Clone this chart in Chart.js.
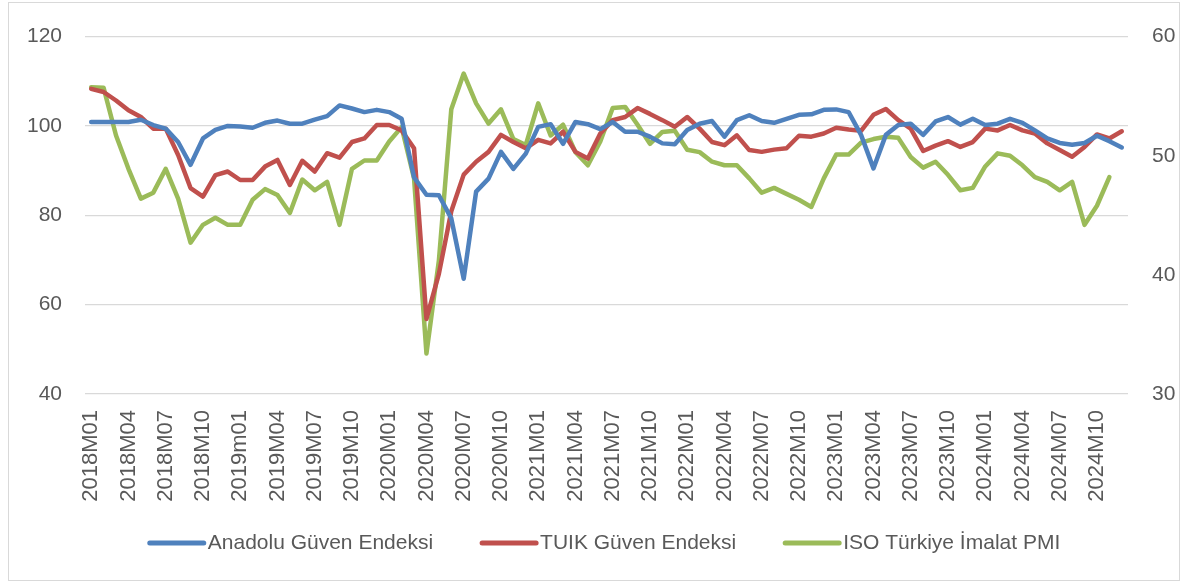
<!DOCTYPE html>
<html>
<head>
<meta charset="utf-8">
<script src="https://cdn.jsdelivr.net/npm/chart.js@4"></script>
<style>
  body { margin: 0; background: #fff; }
  #wrap { position: relative; width: 1186px; height: 583px; }
  #frame { position: absolute; left: 8px; top: 2px; width: 1170px; height: 577px; border: 1px solid #d9d9d9; pointer-events: none; }
</style>
</head>
<body>
<div id="wrap">
  <canvas id="chart" width="1186" height="583"></canvas>
  <div id="frame"></div>
</div>
<script>
// months 2018M01 .. 2024M12 (one label keeps the source's lowercase "m")
const years = [2018, 2019, 2020, 2021, 2022, 2023, 2024];
const months = ['01', '02', '03', '04', '05', '06', '07', '08', '09', '10', '11', '12'];
const labels = [];
years.forEach(y => months.forEach(m => labels.push(y + 'M' + m)));
labels[12] = '2019m01';

const anadolu = [
  100.9, 100.9, 100.9, 100.9, 101.4, 100.2, 99.4, 96.4, 91.3, 97.2, 99.1, 100.0,
  99.9, 99.6, 100.7, 101.2, 100.5, 100.5, 101.4, 102.2, 104.6, 103.9, 103.1, 103.6,
  103.1, 101.6, 88.5, 84.6, 84.5, 79.3, 65.8, 85.3, 88.2, 94.2, 90.4, 93.8,
  99.8, 100.4, 96.0, 100.9, 100.4, 99.3, 100.9, 98.7, 98.7, 97.6, 96.1, 95.9,
  99.1, 100.5, 101.1, 97.6, 101.3, 102.4, 101.1, 100.7, 101.6, 102.5, 102.6, 103.6,
  103.7, 103.1, 98.0, 90.5, 98.0, 100.2, 100.5, 98.0, 101.0, 102.0, 100.3, 101.6,
  100.2, 100.5, 101.6, 100.7, 99.0, 97.2, 96.2, 95.8, 96.2, 97.8, 96.6, 95.2
];

const tuik = [
  108.3, 107.6, 105.7, 103.5, 102.0, 99.4, 99.4, 93.5, 86.1, 84.2, 89.0, 89.8,
  87.9, 87.9, 90.9, 92.4, 86.8, 92.2, 89.8, 93.9, 92.9, 96.4, 97.2, 100.2,
  100.2, 99.0, 95.0, 56.8, 66.9, 80.9, 89.1, 92.0, 94.2, 98.0, 96.4, 95.0,
  96.9, 96.1, 98.7, 94.2, 92.7, 98.3, 101.3, 102.0, 104.0, 102.7, 101.3, 99.8,
  102.0, 99.4, 96.4, 95.7, 97.9, 94.6, 94.2, 94.7, 95.0, 97.8, 97.6, 98.3,
  99.6, 99.2, 98.9, 102.5, 103.8, 101.3, 99.4, 94.4, 95.6, 96.6, 95.3, 96.4,
  99.4, 99.0, 100.2, 99.0, 98.3, 96.1, 94.6, 93.1, 95.3, 98.1, 97.2, 98.8
];

const pmi = [
  55.75, 55.7, 51.7, 48.9, 46.4, 46.9, 48.9, 46.4, 42.7, 44.2, 44.8, 44.2,
  44.2, 46.3, 47.2, 46.7, 45.2, 48.0, 47.1, 47.8, 44.2, 48.9, 49.6, 49.6,
  51.2, 52.4, 48.1, 33.4, 41.2, 53.9, 56.9, 54.4, 52.7, 53.9, 51.4, 50.9,
  54.4, 51.7, 52.6, 50.3, 49.2, 51.2, 54.0, 54.1, 52.6, 51.0, 52.0, 52.1,
  50.5, 50.3, 49.5, 49.2, 49.2, 48.1, 46.9, 47.3, 46.8, 46.3, 45.7, 48.1,
  50.1, 50.1, 51.1, 51.4, 51.6, 51.5, 49.9, 49.0, 49.5, 48.4, 47.1, 47.3,
  49.1, 50.2, 50.0, 49.2, 48.2, 47.8, 47.1, 47.8, 44.2, 45.8, 48.2, null
];

const seriesNames = ['Anadolu Güven Endeksi', 'TUIK Güven Endeksi', 'ISO Türkiye İmalat PMI'];
const colors = ['#4F81BD', '#C0504D', '#9BBB59'];

const FONT = "'Liberation Sans', Arial, sans-serif";
Chart.defaults.font.family = FONT;
Chart.defaults.color = '#595959';

function lineSet(i, data, axis) {
  return {
    label: seriesNames[i],
    data: data,
    yAxisID: axis,
    borderColor: colors[i],
    backgroundColor: colors[i],
    borderWidth: 4.5,
    pointRadius: 0,
    tension: 0,
    borderJoinStyle: 'round',
    borderCapStyle: 'round',
    spanGaps: false
  };
}

// Excel-like legend: long line sample right next to its text, wide gaps between items
const lineLegend = {
  id: 'lineLegend',
  afterDraw(chart) {
    const c = chart.ctx;
    const sample = 58, gap = 2, between = 47, y = 543, center = 604;
    c.save();
    c.font = '21px ' + FONT;
    c.textBaseline = 'middle';
    const items = chart.data.datasets.map(ds => ({ ds, w: c.measureText(ds.label).width }));
    const total = items.reduce((s, it) => s + sample + gap + it.w, 0) + between * (items.length - 1);
    let x = center - total / 2;
    items.forEach(it => {
      c.strokeStyle = it.ds.borderColor;
      c.lineWidth = 5;
      c.lineCap = 'round';
      c.beginPath();
      c.moveTo(x + 2, y);
      c.lineTo(x + sample - 2, y);
      c.stroke();
      c.fillStyle = '#595959';
      c.fillText(it.ds.label, x + sample + gap, y);
      x += sample + gap + it.w + between;
    });
    c.restore();
  }
};

const ctx = document.getElementById('chart').getContext('2d');
new Chart(ctx, {
  type: 'line',
  data: {
    labels: labels,
    datasets: [
      lineSet(0, anadolu, 'y'),
      lineSet(1, tuik, 'y'),
      lineSet(2, pmi, 'y1')
    ]
  },
  options: {
    responsive: false,
    animation: false,
    layout: { padding: { left: 22, right: 0, top: 34, bottom: 0 } },
    plugins: {
      tooltip: { enabled: false },
      legend: { display: false }
    },
    scales: {
      x: {
        offset: true,
        grid: { display: false, drawTicks: false },
        border: { display: false },
        ticks: {
          autoSkip: false,
          maxRotation: 90,
          minRotation: 90,
          padding: 16,
          font: { size: 22 },
          callback: (v, i) => (i % 3 === 0 ? labels[i] : null)
        },
        afterFit: s => { s.height = 189; }
      },
      y: {
        position: 'left',
        min: 40,
        max: 120,
        ticks: { stepSize: 20, padding: 23, font: { size: 21 } },
        grid: { color: '#d9d9d9', lineWidth: 1.2, drawTicks: false },
        border: { display: false },
        afterFit: s => { s.width = 63; }
      },
      y1: {
        position: 'right',
        min: 30,
        max: 60,
        ticks: { stepSize: 10, padding: 24, font: { size: 21 } },
        grid: { display: false, drawTicks: false },
        border: { display: false },
        afterFit: s => { s.width = 58; }
      }
    }
  },
  plugins: [lineLegend]
});
</script>
</body>
</html>
